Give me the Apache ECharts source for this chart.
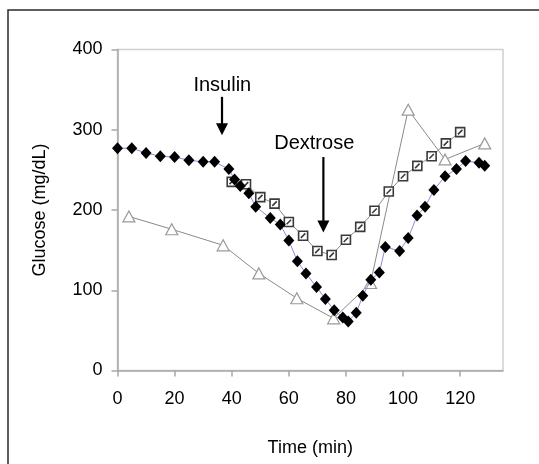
<!DOCTYPE html>
<html>
<head>
<meta charset="utf-8">
<script src="https://cdn.jsdelivr.net/npm/echarts@6/dist/echarts.min.js"></script>
<style>
  html, body { margin: 0; padding: 0; background: #fff; }
  #chart { width: 539px; height: 464px; }
</style>
</head>
<body>
<div id="chart"></div>
<script>
// Glucose readings (mg/dL) against time (min), three subjects
const diamondTime    = [0, 5, 10, 15, 20, 25, 30, 34, 39, 41, 43, 46, 48.4, 53.5, 57, 60, 63, 66, 69.7, 72.8, 75.9, 78.9, 80.8, 83.6, 85.9, 88.7, 91.7, 93.8, 98.8, 101.8, 104.9, 107.7, 110.8, 114.7, 118.7, 121.9, 126.6, 128.6];
const diamondGlucose = [277, 277, 271, 267, 266, 262, 260, 260, 251, 238, 230, 221, 204, 190, 182, 162, 136, 121, 104, 89, 75, 66, 61, 72, 93, 113, 122, 154, 149, 165, 193, 204, 225, 242, 251, 261, 259, 255];

const squareTime    = [40, 45, 50, 55, 60, 65, 70, 75, 80, 85, 90, 95, 100, 105, 110, 115, 120];
const squareGlucose = [235, 232, 216, 208, 185, 168, 149, 144, 163, 179, 199, 223, 242, 255, 267, 283, 297];

const triangleTime    = [4, 19, 37, 49.5, 62.8, 75.7, 88.6, 101.8, 114.7, 128.6];
const triangleGlucose = [192, 176, 156, 121, 90, 65, 109, 325, 263, 283];

const xTicks = [0, 20, 40, 60, 80, 100, 120];
const yTicks = [0, 100, 200, 300, 400];

// Event markers: label, time of the event, arrow tip / tail and label position (min, mg/dL)
const eventLabels = ['Insulin', 'Dextrose'];
const eventTimes  = [36.6, 72.1];
const eventTips   = [293, 172];
const eventTails  = [341, 266];
const eventTextT  = [36.7, 68.9];
const eventTextY  = [355, 283];

const pairs = (xs, ys) => xs.map((x, i) => [x, ys[i]]);

const FONT = '"Liberation Sans", Arial, Helvetica, sans-serif';
const chart = echarts.init(document.getElementById('chart'), null, { renderer: 'canvas' });

const option = {
  animation: false,
  backgroundColor: '#ffffff',
  grid: {
    left: 117.5, top: 49.5, right: 36, bottom: 93.5,
    show: true, borderColor: '#cfcfcf', borderWidth: 1.5
  },
  xAxis: {
    type: 'value', min: 0, max: 135, interval: 20,
    name: 'Time (min)', nameLocation: 'middle', nameGap: 69,
    nameTextStyle: { fontFamily: FONT, fontSize: 18, color: '#000' },
    axisLine: { show: true, lineStyle: { color: '#a8a8a8', width: 1.5 } },
    axisTick: { show: true, length: 6, customValues: xTicks, lineStyle: { color: '#a8a8a8', width: 1.5 } },
    axisLabel: { customValues: xTicks, margin: 20, fontFamily: FONT, fontSize: 18, color: '#000' },
    splitLine: { show: false }
  },
  yAxis: {
    type: 'value', min: 0, max: 400, interval: 100,
    name: 'Glucose (mg/dL)', nameLocation: 'middle', nameGap: 68, nameRotate: 90,
    nameTextStyle: { fontFamily: FONT, fontSize: 18, color: '#000' },
    axisLine: { show: true, lineStyle: { color: '#a8a8a8', width: 1.5 } },
    axisTick: { show: true, length: 6, customValues: yTicks, lineStyle: { color: '#a8a8a8', width: 1.5 } },
    axisLabel: { customValues: yTicks, margin: 15, fontFamily: FONT, fontSize: 18, color: '#000' },
    splitLine: { show: false }
  },
  series: [
    {
      type: 'line', data: pairs(triangleTime, triangleGlucose),
      symbol: 'triangle', symbolSize: [12, 11], showAllSymbol: true,
      lineStyle: { color: '#8a8a8a', width: 1 },
      itemStyle: { color: '#ffffff', borderColor: '#9a9a9a', borderWidth: 1.2 },
      z: 2
    },
    {
      type: 'line', data: pairs(squareTime, squareGlucose),
      symbol: 'path://M0,0L10,0L10,10L0,10Z M2.5,7.5L7.5,2.5', symbolSize: 9, showAllSymbol: true,
      lineStyle: { color: '#8a8a8a', width: 1 },
      itemStyle: { color: '#ffffff', borderColor: '#3a3a3a', borderWidth: 1.6 },
      z: 3
    },
    {
      type: 'line', data: pairs(diamondTime, diamondGlucose),
      symbol: 'diamond', symbolSize: [11, 12], showAllSymbol: true,
      lineStyle: { color: '#8c8cd6', width: 1 },
      itemStyle: { color: '#000000', borderColor: '#000000', borderWidth: 0 },
      z: 4
    }
  ]
};

chart.setOption(option);

// Frame and event arrows placed through the chart's own coordinate system
function drawOverlay() {
  const elements = [
    {
      type: 'rect', silent: true, z: 100,
      shape: { x: 8, y: 10, width: 700, height: 700 },
      style: { fill: 'none', stroke: '#2a2a2a', lineWidth: 1.5 }
    }
  ];
  eventLabels.forEach((label, i) => {
    const tip = chart.convertToPixel({ gridIndex: 0 }, [eventTimes[i], eventTips[i]]);
    const tail = chart.convertToPixel({ gridIndex: 0 }, [eventTimes[i], eventTails[i]]);
    const txt = chart.convertToPixel({ gridIndex: 0 }, [eventTextT[i], eventTextY[i]]);
    const headLen = 12, headHalf = 6;
    elements.push({
      type: 'line', silent: true, z: 100,
      shape: { x1: tail[0], y1: tail[1], x2: tip[0], y2: tip[1] - headLen + 1 },
      style: { stroke: '#000', lineWidth: 2.2 }
    });
    elements.push({
      type: 'polygon', silent: true, z: 100,
      shape: { points: [[tip[0] - headHalf, tip[1] - headLen], [tip[0] + headHalf, tip[1] - headLen], [tip[0], tip[1]]] },
      style: { fill: '#000' }
    });
    elements.push({
      type: 'text', silent: true, z: 100,
      x: txt[0], y: txt[1],
      style: { text: label, fontFamily: FONT, fontSize: 20, fill: '#000', align: 'center', verticalAlign: 'middle' }
    });
  });
  chart.setOption({ graphic: elements });
}
drawOverlay();
</script>
</body>
</html>
